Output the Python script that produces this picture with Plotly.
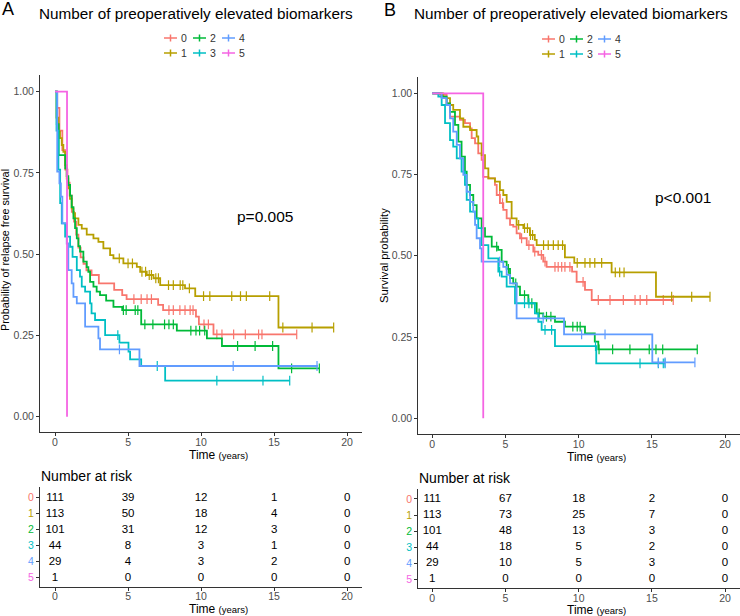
import plotly.graph_objects as go
from bisect import bisect_right

groups = ["0", "1", "2", "3", "4", "5"]
colors = ["#F8766D", "#B79F00", "#00BA38", "#00BFC4", "#619CFF", "#F564E3"]
x_ticks = [0, 5, 10, 15, 20]
y_ticks = [0, 0.25, 0.5, 0.75, 1.0]
risk_times = [0, 5, 10, 15, 20]

# ---------------- Panel A: relapse free survival ----------------
a_t0 = [0, 0.15, 0.3, 0.5, 0.7, 0.85, 1.0, 1.15, 1.3, 1.45, 1.6, 1.75, 1.95, 2.15, 2.5, 3.0, 4.05, 4.6, 4.9, 7.06, 7.4, 9.65, 9.85, 10.85]
a_s0 = [1, 0.95, 0.88, 0.82, 0.76, 0.72, 0.68, 0.63, 0.6, 0.56, 0.52, 0.49, 0.47, 0.45, 0.436, 0.41, 0.39, 0.374, 0.362, 0.344, 0.328, 0.308, 0.284, 0.2535]
a_e0 = 16.55
a_c0 = [5.4, 5.9, 6.3, 6.6, 7.8, 8.1, 8.55, 8.9, 9.25, 9.45, 10.2, 10.5, 11.08, 11.43, 12.23, 13.03, 13.94, 14.17, 16.55]

a_t1 = [0, 0.1, 0.23, 0.34, 0.46, 0.57, 0.69, 0.8, 0.91, 1.02, 1.14, 1.26, 1.37, 1.6, 1.83, 2.17, 2.63, 2.97, 3.31, 3.77, 4.0, 4.68, 5.6, 5.83, 6.28, 6.74, 7.2, 8.9, 9.6, 15.3]
a_s1 = [1, 0.92, 0.877, 0.857, 0.836, 0.815, 0.774, 0.733, 0.703, 0.67, 0.641, 0.626, 0.61, 0.59, 0.579, 0.56, 0.549, 0.538, 0.518, 0.497, 0.487, 0.472, 0.461, 0.446, 0.436, 0.426, 0.405, 0.395, 0.371, 0.2745]
a_e1 = 19.08
a_c1 = [4.4, 5.0, 5.3, 5.95, 6.2, 6.45, 6.6, 6.9, 7.08, 7.77, 8.1, 8.57, 8.75, 9.2, 10.17, 10.6, 12.1, 12.7, 13.1, 14.7, 15.6, 17.6, 19.08]

a_t2 = [0, 0.12, 0.25, 0.7, 0.8, 0.91, 1.03, 1.14, 1.26, 1.37, 1.49, 1.6, 1.71, 1.94, 2.17, 2.28, 2.4, 2.63, 2.85, 3.08, 3.5, 4.0, 4.6, 5.9, 8.34, 10.4, 11.43, 15.3]
a_s2 = [1, 0.9, 0.805, 0.764, 0.74, 0.713, 0.68, 0.645, 0.61, 0.58, 0.549, 0.525, 0.508, 0.477, 0.46, 0.446, 0.415, 0.4, 0.385, 0.374, 0.357, 0.338, 0.328, 0.284, 0.265, 0.241, 0.2175, 0.149]
a_e2 = 18.1
a_c2 = [4.68, 4.87, 5.49, 5.67, 6.15, 6.7, 7.5, 7.8, 8.1, 9.3, 9.65, 9.9, 10.25, 12.5, 13.7, 14.9, 16.2, 18.1]

a_t3 = [0, 0.1, 0.23, 0.35, 0.46, 0.69, 1.03, 1.2, 1.49, 1.71, 1.83, 2.06, 2.4, 2.5, 2.74, 3.43, 4.41, 5.03, 5.14, 5.9, 7.54]
a_s3 = [1, 0.88, 0.76, 0.657, 0.595, 0.554, 0.523, 0.492, 0.451, 0.431, 0.4, 0.385, 0.349, 0.318, 0.2975, 0.251, 0.2277, 0.2, 0.1766, 0.156, 0.111]
a_e3 = 16.07
a_c3 = [4.3, 7.0, 11.08, 14.24, 16.07]

a_t4 = [0, 0.15, 0.3, 0.4, 0.5, 0.8, 0.91, 1.14, 1.26, 1.49, 2.06, 2.97, 3.08, 5.78]
a_s4 = [1, 0.754, 0.718, 0.677, 0.595, 0.533, 0.451, 0.41, 0.369, 0.349, 0.277, 0.241, 0.207, 0.156]
a_e4 = 18.0
a_c4 = [4.41, 12.2, 17.94]

a_t5 = [0, 0.82]
a_s5 = [1, 0]
a_e5 = 0.82
a_c5 = []

a_risk0 = [111, 39, 12, 1, 0]
a_risk1 = [113, 50, 18, 4, 0]
a_risk2 = [101, 31, 12, 3, 0]
a_risk3 = [44, 8, 3, 1, 0]
a_risk4 = [29, 4, 3, 2, 0]
a_risk5 = [1, 0, 0, 0, 0]

# ---------------- Panel B: overall survival ----------------
b_t0 = [0, 0.53, 0.98, 1.21, 1.89, 2.23, 2.58, 2.69, 2.92, 3.14, 3.37, 3.48, 3.83, 4.28, 4.4, 4.62, 4.85, 5.08, 5.31, 5.53, 5.76, 5.99, 6.45, 6.9, 7.24, 7.58, 7.81, 9.55, 9.86, 10.43, 10.89]
b_s0 = [1, 0.995, 0.969, 0.928, 0.918, 0.908, 0.892, 0.862, 0.846, 0.815, 0.795, 0.743, 0.738, 0.718, 0.687, 0.662, 0.641, 0.615, 0.595, 0.59, 0.569, 0.554, 0.533, 0.513, 0.503, 0.482, 0.466, 0.451, 0.42, 0.395, 0.364]
b_e0 = 16.46
b_c0 = [4.6, 4.8, 6.1, 6.6, 7.0, 7.45, 7.7, 8.38, 8.6, 8.84, 9.06, 9.4, 10.3, 11.34, 12.14, 13.05, 13.85, 14.2, 14.65, 15.78, 16.46]

b_t1 = [0, 0.75, 1.21, 1.43, 1.89, 2.12, 2.58, 3.03, 3.14, 3.37, 3.6, 3.83, 4.28, 4.62, 4.85, 5.08, 5.42, 5.76, 6.22, 6.67, 7.0, 7.13, 9.06, 9.7, 12.25, 15.28]
b_s1 = [1, 0.985, 0.964, 0.949, 0.923, 0.897, 0.887, 0.867, 0.846, 0.81, 0.769, 0.738, 0.728, 0.702, 0.687, 0.666, 0.615, 0.595, 0.585, 0.564, 0.549, 0.533, 0.495, 0.478, 0.449, 0.374]
b_e1 = 18.97
b_c1 = [5.9, 6.3, 6.5, 6.7, 6.85, 7.6, 7.92, 8.27, 8.6, 8.9, 9.9, 10.43, 10.77, 11.1, 11.57, 12.5, 12.8, 13.1, 16.35, 17.72, 18.97]

b_t2 = [0, 0.64, 0.98, 1.21, 1.55, 1.78, 2.0, 2.23, 2.35, 2.58, 2.8, 3.03, 3.37, 3.6, 4.06, 4.5, 4.74, 5.08, 5.31, 5.53, 5.76, 5.99, 6.56, 7.13, 7.58, 8.38, 9.06, 10.43, 11.1, 11.34]
b_s2 = [1, 0.99, 0.969, 0.943, 0.903, 0.851, 0.805, 0.759, 0.718, 0.687, 0.656, 0.615, 0.585, 0.559, 0.528, 0.518, 0.482, 0.46, 0.431, 0.415, 0.405, 0.379, 0.354, 0.323, 0.3126, 0.297, 0.282, 0.2615, 0.236, 0.212]
b_e2 = 18.1
b_c2 = [4.4, 5.2, 5.7, 6.3, 6.8, 7.3, 7.8, 8.1, 9.6, 9.9, 10.1, 11.39, 12.32, 13.5, 14.82, 15.28, 15.74, 18.1]

b_t3 = [0, 0.41, 0.64, 0.87, 1.21, 1.43, 1.67, 2.0, 2.23, 2.35, 2.58, 2.92, 3.14, 3.37, 3.83, 4.51, 4.74, 5.08, 5.65, 7.01, 7.24, 7.47, 8.38, 11.2]
b_s3 = [1, 0.99, 0.964, 0.908, 0.856, 0.836, 0.8, 0.759, 0.718, 0.672, 0.636, 0.615, 0.585, 0.533, 0.492, 0.451, 0.436, 0.405, 0.354, 0.323, 0.297, 0.272, 0.222, 0.169]
b_e3 = 15.9
b_c3 = [4.6, 6.3, 6.6, 7.7, 8.15, 11.15, 14.19, 15.44, 15.78, 15.9]

b_t4 = [0, 0.64, 0.98, 1.21, 1.43, 1.67, 1.89, 2.12, 2.35, 2.58, 2.8, 2.92, 3.03, 3.26, 3.37, 4.85, 5.08, 5.31, 5.76, 9.0, 15.03]
b_s4 = [1, 0.985, 0.964, 0.923, 0.882, 0.841, 0.8, 0.749, 0.697, 0.666, 0.636, 0.595, 0.554, 0.523, 0.482, 0.466, 0.441, 0.415, 0.3077, 0.2585, 0.172]
b_e4 = 17.94
b_c4 = [4.6, 7.58, 10.2, 11.8, 15.44, 15.9, 17.94]

b_t5 = [0, 3.48]
b_s5 = [1, 0]
b_e5 = 3.48
b_c5 = []

b_risk0 = [111, 67, 18, 2, 0]
b_risk1 = [113, 73, 25, 7, 0]
b_risk2 = [101, 48, 13, 3, 0]
b_risk3 = [44, 18, 5, 2, 0]
b_risk4 = [29, 10, 5, 3, 0]
b_risk5 = [1, 0, 0, 0, 0]

panel_a = [(a_t0, a_s0, a_e0, a_c0), (a_t1, a_s1, a_e1, a_c1), (a_t2, a_s2, a_e2, a_c2),
           (a_t3, a_s3, a_e3, a_c3), (a_t4, a_s4, a_e4, a_c4), (a_t5, a_s5, a_e5, a_c5)]
panel_b = [(b_t0, b_s0, b_e0, b_c0), (b_t1, b_s1, b_e1, b_c1), (b_t2, b_s2, b_e2, b_c2),
           (b_t3, b_s3, b_e3, b_c3), (b_t4, b_s4, b_e4, b_c4), (b_t5, b_s5, b_e5, b_c5)]
risk_a = [a_risk0, a_risk1, a_risk2, a_risk3, a_risk4, a_risk5]
risk_b = [b_risk0, b_risk1, b_risk2, b_risk3, b_risk4, b_risk5]

W, H = 740, 616
FONT = "Liberation Sans, Arial, sans-serif"
TICKC = "#4D4D4D"
AXC = "#333333"


def px(x):
    return x / W


def py(y):
    return 1 - y / H


fig = go.Figure()


def add_curves(panel, xa, ya):
    for i, (t, s, end, cens) in enumerate(panel):
        fig.add_trace(go.Scatter(
            x=list(t) + [end], y=list(s) + [s[-1]], mode="lines", line=dict(color=colors[i], width=1.8, shape="hv"),
            xaxis=xa, yaxis=ya, showlegend=False, hoverinfo="skip"))
        if cens:
            cy = [s[bisect_right(t, c) - 1] for c in cens]
            fig.add_trace(go.Scatter(
                x=cens, y=cy, mode="markers",
                marker=dict(symbol="line-ns-open", size=7, color=colors[i], line=dict(color=colors[i], width=1.2)),
                xaxis=xa, yaxis=ya, showlegend=False, hoverinfo="skip"))


def add_risk(risk, xa, ya):
    for i, vals in enumerate(risk):
        fig.add_trace(go.Scatter(
            x=risk_times, y=[len(groups) - 1 - i] * len(risk_times), text=[str(v) for v in vals],
            mode="text", textfont=dict(family=FONT, size=11.5, color="black"),
            xaxis=xa, yaxis=ya, showlegend=False, hoverinfo="skip"))


add_curves(panel_a, "x", "y")
add_risk(risk_a, "x2", "y2")
add_curves(panel_b, "x3", "y3")
add_risk(risk_b, "x4", "y4")

xa_dom = [40 / W, 361.7 / W]
xb_dom = [418.3 / W, 1.0]
ya_main = [py(432.3), py(75)]
ya_tab = [py(586.7), py(487.3)]
yb_main = [py(434), py(76.7)]
yb_tab = [py(588.3), py(489.3)]

common = dict(showgrid=False, zeroline=False, showline=True, linecolor=AXC, linewidth=1.1,
              ticks="outside", ticklen=3, tickcolor=AXC, tickwidth=1,
              tickfont=dict(family=FONT, size=10.5, color=TICKC))

row_vals = [len(groups) - 1 - i for i in range(len(groups))]
row_text = ["<span style='color:%s'>%s</span>" % (colors[i], g) for i, g in enumerate(groups)]

fig.update_layout(
    width=W, height=H, margin=dict(l=0, r=0, t=0, b=0), autosize=False,
    paper_bgcolor="white", plot_bgcolor="white", showlegend=False,
    xaxis=dict(domain=xa_dom, anchor="y", range=[-1.03, 21.0], tickvals=x_ticks, ticklabelstandoff=-3, **common),
    yaxis=dict(domain=ya_main, anchor="x", range=[-0.048, 1.0514], tickvals=y_ticks, tickformat=".2f", **common),
    xaxis2=dict(domain=xa_dom, anchor="y2", range=[-1.03, 21.0], tickvals=x_ticks, ticklabelstandoff=-3, **common),
    yaxis2=dict(domain=ya_tab, anchor="x2", range=[-0.5625, 5.65], tickvals=row_vals, ticktext=row_text, **common),
    xaxis3=dict(domain=xb_dom, anchor="y3", range=[-0.956, 21.02], tickvals=x_ticks, ticklabelstandoff=-3, **common),
    yaxis3=dict(domain=yb_main, anchor="x3", range=[-0.0483, 1.051], tickvals=y_ticks, tickformat=".2f", **common),
    xaxis4=dict(domain=xb_dom, anchor="y4", range=[-0.956, 21.02], tickvals=x_ticks, ticklabelstandoff=-3, **common),
    yaxis4=dict(domain=yb_tab, anchor="x4", range=[-0.56, 5.6], tickvals=row_vals, ticktext=row_text, **common),
)

ann = []
TITLE = "Number of preoperatively elevated biomarkers"


def add_text(text, x, y, size, xanchor="center", color="black", angle=0, font=FONT):
    ann.append(dict(text=text, x=px(x), y=py(y), xref="paper", yref="paper", xanchor=xanchor, yanchor="middle",
                    showarrow=False, textangle=angle, font=dict(family=font, size=size, color=color)))


add_text("A", 0, 8.5, 18, xanchor="left")
add_text(TITLE, 37, 14, 15.3, xanchor="left")
add_text("B", 382, 10, 18, xanchor="left")
add_text(TITLE, 412, 13.5, 15.3, xanchor="left")

time_lbl = "Time <span style='font-size:9.5px'>(years)</span>"
add_text(time_lbl, 218, 455, 12)
add_text(time_lbl, 218, 608.5, 12)
add_text(time_lbl, 596, 457, 12)
add_text(time_lbl, 596, 610, 12)

add_text("Probability of relapse free survival", 5, 250, 10.8, angle=-90)
add_text("Survival probability", 384, 256, 11.3, angle=-90)

add_text("Number at risk", 39, 476, 14, xanchor="left")
add_text("Number at risk", 417, 478, 14, xanchor="left")

# p-values in data coordinates
ann.append(dict(text="p=0.005", x=12.3, y=0.615, xref="x", yref="y", xanchor="left", yanchor="middle",
                showarrow=False, font=dict(family=FONT, size=15.5, color="black")))
ann.append(dict(text="p<0.001", x=15.07, y=0.678, xref="x3", yref="y3", xanchor="left", yanchor="middle",
                showarrow=False, font=dict(family=FONT, size=15.5, color="black")))

# legends (key glyph: short line with a cross tick)
shapes = []
legend_layout = [(164, 38, 29), (542, 39, 28)]
for (x0, y0, step) in legend_layout:
    for i, g in enumerate(groups):
        col = i // 2
        row = i % 2
        sx = x0 + col * step
        sy = y0 + row * 15
        shapes.append(dict(type="line", xref="paper", yref="paper", x0=px(sx), x1=px(sx + 13), y0=py(sy), y1=py(sy),
                           line=dict(color=colors[i], width=1.5)))
        shapes.append(dict(type="line", xref="paper", yref="paper", x0=px(sx + 6.5), x1=px(sx + 6.5), y0=py(sy - 3.5),
                           y1=py(sy + 3.5), line=dict(color=colors[i], width=1.5)))
        add_text(g, sx + 20, sy, 10.5, color="#333333")

fig.update_layout(annotations=ann, shapes=shapes)
fig.write_html(
    "out.html",
    config={"displayModeBar": False},
    post_script="document.body.style.margin='0';document.body.style.padding='0';"
                "document.documentElement.style.overflow='hidden';",
)
